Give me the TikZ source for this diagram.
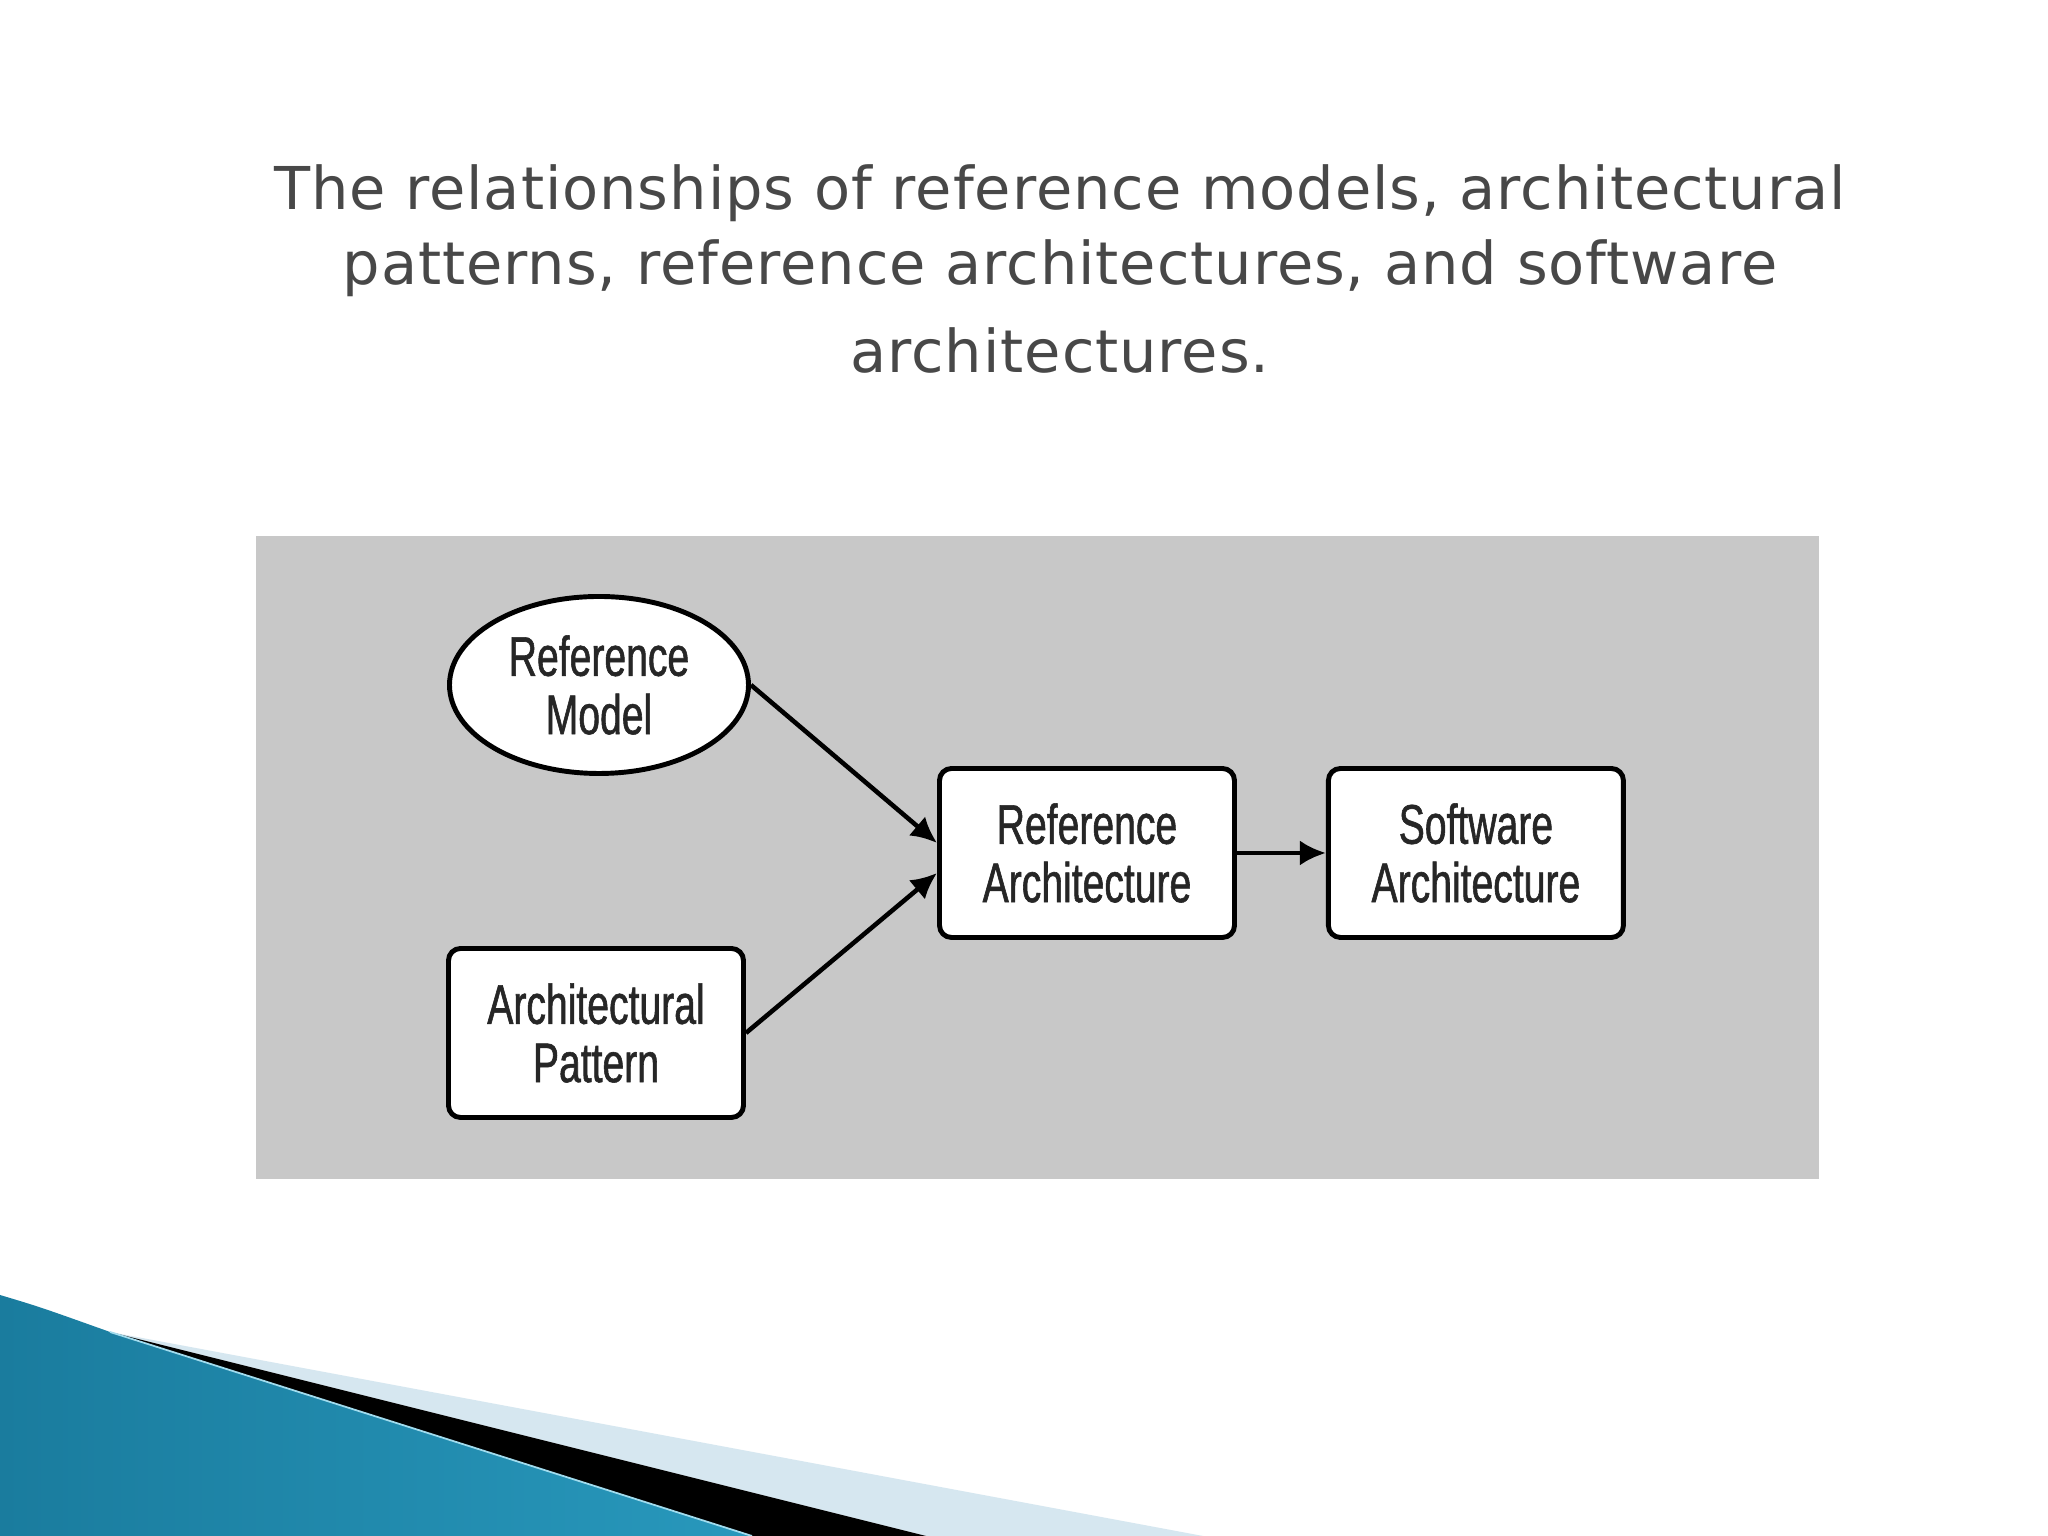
\documentclass[tikz,border=0pt]{standalone}
\usepackage{fontspec}
\newfontfamily\titlefont[LetterSpace=1.6]{DejaVu Sans}
\newfontfamily\boxfont[FakeStretch=0.7, FakeBold=1]{Liberation Sans}
\usetikzlibrary{positioning, arrows.meta, shapes.geometric}
\definecolor{panelgray}{RGB}{200,200,200}
\definecolor{titlegray}{RGB}{72,72,72}
\definecolor{swooshdark}{RGB}{26,124,158}
\definecolor{swooshlight}{RGB}{98,196,226}
\definecolor{swooshmid}{RGB}{40,152,188}
\definecolor{paleblue}{RGB}{214,231,240}
\tikzset{
block/.style={shape=rectangle, rounded corners=0.12cm, draw, line width=1.4pt, fill=white, minimum width=2.95cm, minimum height=1.69cm, inner sep=0, align=center, text=black!85, font=\boxfont\fontsize{15.9}{16.6}\selectfont},
model/.style={block, shape=ellipse, sharp corners, minimum width=2.99cm, minimum height=1.77cm},
title/.style={anchor=base, text=titlegray, font=\titlefont\fontsize{16.8}{21}\selectfont},
link/.style={-{Latex[length=0.26cm, width=0.25cm]}, line width=1.3pt}}
\begin{document}
\begin{tikzpicture}
\useasboundingbox (0,0) rectangle (20.48,15.36);
\fill [white] (0,0) rectangle (20.48,15.36);
% corner swoosh
\fill [paleblue] (1.10,2.04) -- (12.03,0) -- (9.26,0) -- cycle;
\fill [black] (1.10,2.04) -- (9.26,0) -- (7.52,0) -- cycle;
\shade [left color=swooshdark, middle color=swooshlight, right color=swooshmid]
  (0,2.41) .. controls (0.4,2.29) .. (1.10,2.04) -- (7.52,0) -- (0,0) -- cycle;
\draw [swooshlight!60!white, line width=0.5pt] (1.10,2.04) -- (7.52,0);
% title
\node [title] (title-1) at (10.6,13.26) {The relationships of reference models, architectural};
\node [title] (title-2) at (10.6,12.51) {patterns, reference architectures, and software};
\node [title] (title-3) at (10.6,11.63) {architectures.};
% panel
\fill [panelgray] (2.56,3.57) rectangle (18.19,10.00);
\node [model] at (5.99,8.51) (ref-model) {Reference\\Model};
\node [block] at (5.96,5.03) (arch-pat) {Architectural\\Pattern};
\node [block] at (10.87,6.83) (ref-arch) {Reference\\Architecture};
\node [block, right=0.89cm of ref-arch] (sw-arch) {Software\\Architecture};
\draw [link] (ref-model.east) -- ([yshift=0.1cm]ref-arch.west);
\draw [link] (arch-pat.east) -- ([yshift=-0.2cm]ref-arch.west);
\draw [link] (ref-arch) -- (sw-arch);
\end{tikzpicture}
\end{document}
